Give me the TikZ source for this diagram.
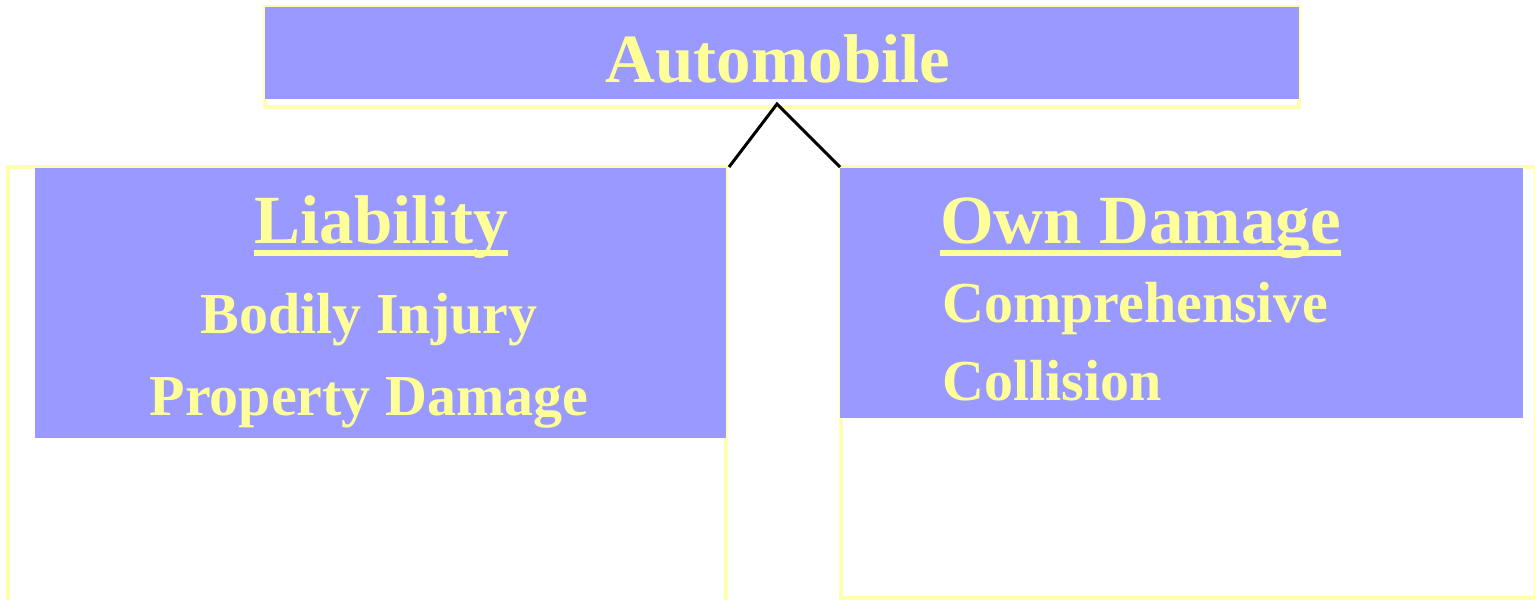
\documentclass[tikz,border=0pt]{standalone}
\usepackage{fontspec}
\setmainfont{Liberation Serif}
\usetikzlibrary{calc}
\definecolor{boxblue}{HTML}{9999FF}
\definecolor{txtyellow}{HTML}{FFFF99}
\definecolor{edgeyellow}{HTML}{FFFFB0}
\tikzset{
  panel/.style={fill=boxblue, draw=none, inner sep=0pt, anchor=north west},
  frame/.style={draw=edgeyellow, line width=3.5pt},
  big/.style={text=txtyellow, inner sep=0pt, font=\fontsize{69}{80}\selectfont\bfseries},
  small/.style={text=txtyellow, inner sep=0pt, font=\fontsize{58}{68}\selectfont\bfseries},
  uline/.style={draw=txtyellow, line width=6pt},
  link/.style={draw=black, line width=3pt}
}
\begin{document}
\begin{tikzpicture}[x=1pt,y=-1pt]
\useasboundingbox (0,0) rectangle (1535,600);
\clip (0,0) rectangle (1535,600);
% top box
\draw[frame] (265,7) rectangle (1299,107);
\node[panel, minimum width=1034pt, minimum height=92pt] (top) at (265,7) {};
\node[big, anchor=base] (auto) at (778,82) {Automobile};
% left box
\draw[frame] (8,167) rectangle (726,610);
\node[panel, minimum width=691pt, minimum height=270pt] (left) at (35,168) {};
\node[big, anchor=base] (lia) at (381,243) {Liability};
\draw[uline] ($(lia.base west)+(0,10)$) -- ($(lia.base east)+(0,10)$);
\node[small, anchor=base] (bod) at (369,333) {Bodily Injury};
\node[small, anchor=base] (prop) at (369,415) {Property Damage};
% right box
\draw[frame] (841,167) rectangle (1536,598);
\node[panel, minimum width=683pt, minimum height=250pt] (right) at (840,168) {};
\node[big, anchor=base west] (own) at (940,243) {Own Damage};
\draw[uline] ($(own.base west)+(0,10)$) -- ($(own.base east)+(0,10)$);
\node[small, anchor=base west] (comp) at (942,322) {Comprehensive};
\node[small, anchor=base west] (coll) at (942,400) {Collision};
% connector
\coordinate (apex) at (777,104);
\coordinate (lend) at (729,167);
\coordinate (rend) at (840,167);
\draw[link] (lend) -- (apex) -- (rend);
\end{tikzpicture}
\end{document}
